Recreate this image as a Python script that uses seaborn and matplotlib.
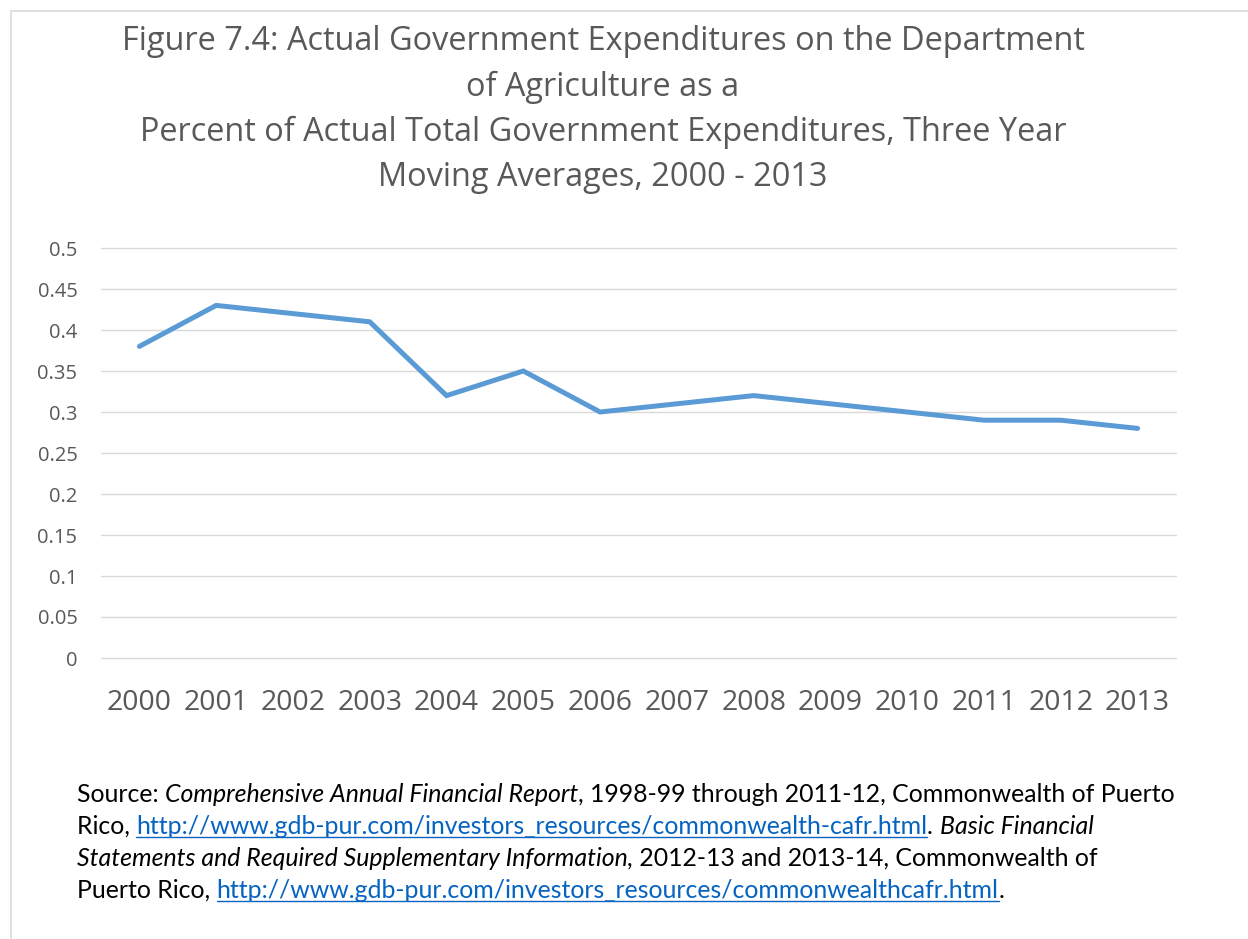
import matplotlib
matplotlib.use("Agg")
import matplotlib.pyplot as plt
import numpy as np
import pandas as pd
import seaborn as sns
from matplotlib.patches import Rectangle
from matplotlib.lines import Line2D

# Data
years = ["2000", "2001", "2002", "2003", "2004", "2005", "2006",
         "2007", "2008", "2009", "2010", "2011", "2012", "2013"]
share = [0.38, 0.43, 0.42, 0.41, 0.32, 0.35, 0.30,
         0.31, 0.32, 0.31, 0.30, 0.29, 0.29, 0.28]
y_ticks = [0, 0.05, 0.1, 0.15, 0.2, 0.25, 0.3, 0.35, 0.4, 0.45, 0.5]
y_tick_labels = ["0", "0.05", "0.1", "0.15", "0.2", "0.25", "0.3",
                 "0.35", "0.4", "0.45", "0.5"]

title_lines = [
    "Figure 7.4: Actual Government Expenditures on the Department",
    "of Agriculture as a",
    "Percent of Actual Total Government Expenditures, Three Year",
    "Moving Averages, 2000 - 2013",
]

url1 = "http://www.gdb-pur.com/investors_resources/commonwealth-cafr.html"
url2 = "http://www.gdb-pur.com/investors_resources/commonwealthcafr.html"
# (text, style) style: n = normal, i = italic, u = link
source_lines = [
    [("Source: ", "n"), ("Comprehensive Annual Financial Report", "i"),
     (", 1998-99 through 2011-12, Commonwealth of Puerto", "n")],
    [("Rico, ", "n"), (url1, "u"), (". ", "n"), ("Basic Financial", "i")],
    [("Statements and Required Supplementary Information,", "i"),
     (" 2012-13 and 2013-14, Commonwealth of", "n")],
    [("Puerto Rico, ", "n"), (url2, "u"), (".", "n")],
]

W, H = 1248, 939
GRAY = "#595959"
LINE_BLUE = "#5B9BD5"
LINK_BLUE = "#0563C1"


def px(x, y):
    return x / W, 1 - y / H


sns.set_theme(style="white")
plt.rcParams["font.family"] = ["Open Sans", "DejaVu Sans"]

df = pd.DataFrame({"year": years, "share": share})

fig = plt.figure(figsize=(W / 100, H / 100), dpi=100)
fig.patch.set_facecolor("white")

# outer chart frame
fig.patches.append(Rectangle(px(11, 1000), (1300 - 11) / W, (1000 - 11) / H,
                             transform=fig.transFigure, fill=False,
                             edgecolor="#D9D9D9", linewidth=1.2))

ax = fig.add_axes([101 / W, 1 - 658 / H, (1176 - 101) / W, (658 - 248) / H])
sns.lineplot(data=df, x="year", y="share", ax=ax, color=LINE_BLUE,
             linewidth=3.6, sort=False, solid_capstyle="round",
             solid_joinstyle="miter")

ax.set_xlim(-0.5, len(years) - 0.5)
ax.set_ylim(0, 0.5)
ax.set_yticks(y_ticks)
ax.set_yticklabels(y_tick_labels)
ax.set_xlabel("")
ax.set_ylabel("")
for s in ax.spines.values():
    s.set_visible(False)
ax.yaxis.grid(True, color="#D9D9D9", linewidth=1.0)
ax.xaxis.grid(False)
for gl in ax.get_ygridlines():
    gl.set_clip_on(False)
ax.set_axisbelow(True)
ax.tick_params(axis="y", length=0, pad=17, labelsize=14.5, labelcolor=GRAY)
ax.tick_params(axis="x", length=0, pad=22, labelsize=20.5, labelcolor=GRAY)

# title
title_y = [42, 87, 132, 178]
for line, y in zip(title_lines, title_y):
    fig.text(*px(603, y), line, ha="center", va="center", fontsize=23.4,
             color=GRAY)

# source note, built from segments
fig.canvas.draw()
renderer = fig.canvas.get_renderer()
src_font = ["Lato", "DejaVu Sans"]
src_size = 17.9
baselines = [802, 834, 866, 898]
for segs, base in zip(source_lines, baselines):
    x = 77
    for text, style in segs:
        t = fig.text(*px(x, base), text, ha="left", va="baseline",
                     fontsize=src_size, family=src_font,
                     style="italic" if style == "i" else "normal",
                     color=LINK_BLUE if style == "u" else "black")
        bb = t.get_window_extent(renderer)
        if style == "u":
            fig.lines.append(Line2D([bb.x0 / W, bb.x1 / W],
                                    [1 - (base + 3) / H] * 2,
                                    transform=fig.transFigure,
                                    color=LINK_BLUE, linewidth=1.0))
        x = x + bb.width

fig.savefig("out.png", dpi=100)
